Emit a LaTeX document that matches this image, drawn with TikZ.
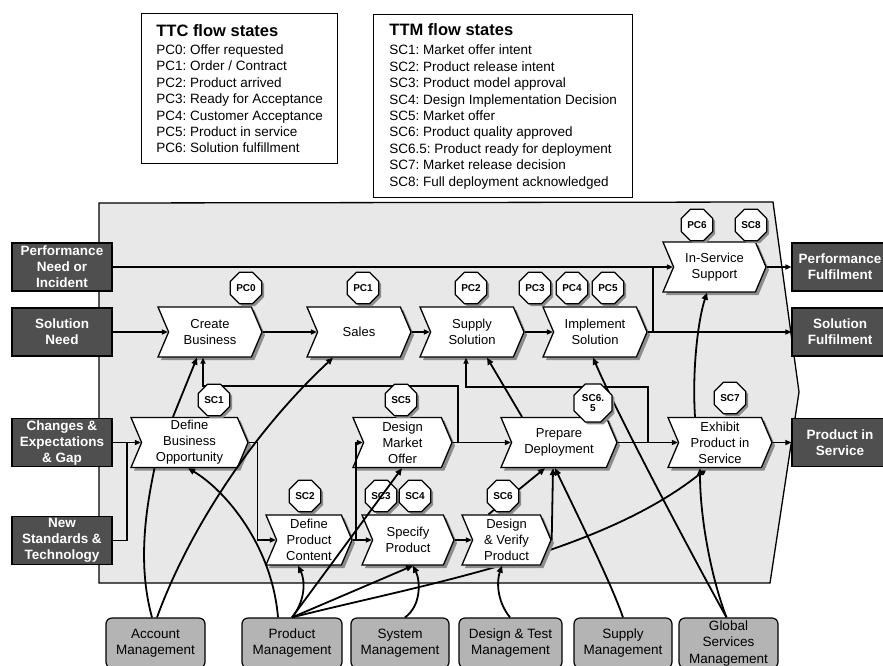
\documentclass[tikz,border=0pt]{standalone}
\usepackage{fontspec}
\setmainfont{Liberation Sans}
\usetikzlibrary{shapes.symbols,shapes.geometric,shadows,arrows.meta,calc}
\definecolor{regionfill}{HTML}{E8E8E8}
\definecolor{darkbox}{HTML}{4F4F4F}
\definecolor{deptfill}{HTML}{B4B4B4}
\definecolor{shadowc}{HTML}{8C8C8C}
\pgfdeclarelayer{regionlayer}
\pgfdeclarelayer{behindlayer}
\pgfsetlayers{regionlayer,behindlayer,main}
\frenchspacing
\begin{document}
\begin{tikzpicture}[x=1pt,y=-1pt,
  chev/.style={signal, signal to=east, signal from=west, signal pointer angle=134,
    draw=black, line width=1.3pt, fill=white, minimum height=50pt, inner sep=1pt,
    align=center, font=\fontsize{13}{16}\selectfont,
    drop shadow={shadow xshift=3pt,shadow yshift=-3pt,fill=shadowc,opacity=1}},
  badge/.style={regular polygon, regular polygon sides=8, minimum size=34pt,
    inner sep=0pt, draw=black, line width=1.3pt, fill=white,
    font=\bfseries\fontsize{10}{10.5}\selectfont, align=center,
    drop shadow={shadow xshift=2.5pt,shadow yshift=-2.5pt,fill=shadowc,opacity=1}},
  inbox/.style={rectangle, draw=black, line width=1.2pt, fill=darkbox, text=white,
    font=\bfseries\fontsize{13.5}{16}\selectfont, align=center,
    minimum width=100pt, minimum height=48pt, inner sep=1pt},
  dept/.style={rectangle, rounded corners=6pt, draw=black, line width=1.2pt,
    fill=deptfill, font=\fontsize{13.5}{16.5}\selectfont, align=center,
    minimum height=50pt, inner sep=1pt},
  flow/.style={line width=1.5pt, -{Triangle[length=6pt,width=5pt]}},
  link/.style={line width=1.8pt, -{Triangle[length=7pt,width=6pt]}},
  plain/.style={line width=1.5pt},
  legend/.style={draw=black, line width=1.3pt, fill=white, anchor=north west,
    align=left, inner sep=0pt, font=\fontsize{13.5}{16.4}\selectfont}
]
\useasboundingbox (0,0) rectangle (883,665);

% legends
\node[legend, minimum width=196pt, minimum height=150pt] (ttc) at (141,13)
 {{\bfseries\fontsize{16.5}{18}\selectfont TTC flow states}\\[2pt]
  PC0: Offer requested\\
  PC1: Order / Contract\\
  PC2: Product arrived\\
  PC3: Ready for Acceptance\\
  PC4: Customer Acceptance\\
  PC5: Product in service\\
  PC6: Solution fulfillment};
\node[legend, minimum width=259pt, minimum height=183pt] (ttm) at (373,14)
 {{\bfseries\fontsize{16.5}{18}\selectfont TTM flow states}\\[3pt]
  SC1: Market offer intent\\
  SC2: Product release intent\\
  SC3: Product model approval\\
  SC4: Design Implementation Decision\\
  SC5: Market offer\\
  SC6: Product quality approved\\
  SC6.5: Product ready for deployment\\
  SC7: Market release decision\\
  SC8: Full deployment acknowledged};

% grey region
\begin{pgfonlayer}{regionlayer}
\draw[line width=1.3pt, fill=regionfill] (99,203) -- (773,202) -- (799,392) -- (770,583) -- (99,583) -- cycle;
\end{pgfonlayer}

% bottom departments
\node[dept, minimum width=99pt]  (acct) at (155.5,643) {Account\\Management};
\node[dept, minimum width=100pt] (pm)   at (292,643)   {Product\\Management};
\node[dept, minimum width=98pt]  (sysm) at (400,643)   {System\\Management};
\node[dept, minimum width=103pt] (dtm)  at (510.5,643) {Design \& Test\\Management};
\node[dept, minimum width=98pt]  (supm) at (623,643)   {Supply\\Management};
\node[dept, minimum width=99pt]  (gsm)  at (728.5,643) {Global\\Services\\Management};

% input / output boxes
\node[inbox] (perf)    at (62,267)   {Performance\\Need or\\Incident};
\node[inbox] (solneed) at (62,332)   {Solution\\Need};
\node[inbox] (changes) at (62,442.5) {Changes \&\\Expectations\\\& Gap};
\node[inbox] (newstd)  at (62,540.5) {New\\Standards \&\\Technology};
\node[inbox, minimum width=96pt] (perfful)  at (840,267)   {Performance\\Fulfilment};
\node[inbox, minimum width=96pt] (solful)   at (840,332)   {Solution\\Fulfilment};
\node[inbox, minimum width=96pt] (prodserv) at (840,442.5) {Product in\\Service};

% process chevrons
\node[chev, minimum width=104pt] (create)    at (210,332)   {Create\\Business};
\node[chev, minimum width=104pt] (sales)     at (359,332)   {Sales};
\node[chev, minimum width=104pt] (supply)    at (472,332)   {Supply\\Solution};
\node[chev, minimum width=104pt] (implement) at (595,332)   {Implement\\Solution};
\node[chev, minimum width=103pt] (inservice) at (714.5,267) {In-Service\\Support};
\node[chev, minimum width=117pt] (dbo)       at (189.5,442.5) {Define\\Business\\Opportunity};
\node[chev, minimum width=99pt]  (dmo)       at (402.5,442.5) {Design\\Market\\Offer};
\node[chev, minimum width=116pt] (prepare)   at (559,442.5) {Prepare\\Deployment};
\node[chev, minimum width=104pt] (exhibit)   at (720,442.5) {Exhibit\\Product in\\Service};
\node[chev, minimum width=86pt]  (dpc)       at (309,540)   {Define\\Product\\Content};
\node[chev, minimum width=92pt]  (specify)   at (408,540)   {Specify\\Product};
\node[chev, minimum width=89pt]  (dv)        at (506.5,540) {Design\\\& Verify\\Product};

% curve passing behind Design & Verify
\begin{pgfonlayer}{behindlayer}
\draw[link] (pm.north) .. controls (420,585) and (600,555) .. ([xshift=-13pt]exhibit.south);
\end{pgfonlayer}

% main flow
\draw[flow] (perf.east) -- (inservice.west);
\draw[flow] (solneed.east) -- (create.west);
\draw[flow] (create.east) -- (sales.west);
\draw[flow] (sales.east) -- (supply.west);
\draw[flow] (supply.east) -- (implement.west);
\draw[flow] (implement.east) -- (solful.west);
\coordinate (jI) at (653,332);
\draw[plain] (jI) -- (jI |- perf.east);
\draw[flow] (inservice.east) -- (perfful.west);
\draw[flow] (exhibit.east) -- (prodserv.west);
\draw[flow] (changes.east) -- (dbo.west);
\coordinate (jN) at (127,442.5);
\draw[plain] (newstd.east) -| (jN);
\draw[flow] (dbo.east) -- ++(9,0) |- (dpc.west);
\coordinate (jP) at (356,540);
\draw[flow] (jP) |- (dmo.west);
\draw[flow] (dpc.east) -- (specify.west);
\draw[flow] (specify.east) -- (dv.west);
\draw[flow] (dmo.east) -- (prepare.west);
\coordinate (jD) at (458,442.5);
\draw[flow] (jD) -- (458,386) -| ([xshift=-7pt]create.south);
\draw[flow] (prepare.east) -- (exhibit.west);
\coordinate (jE) at (648,442.5);
\draw[flow] (jE) -- (648,387) -| ([xshift=-6pt]supply.south);

\draw[link] ([xshift=-25pt]exhibit.north) .. controls (692,370) and (698,320) .. ([xshift=-7.5pt]inservice.south);
\draw[link] ([xshift=-37pt]prepare.north) -- ([xshift=15pt]supply.south);
\draw[link] (dv.east) -- ([xshift=-6pt]prepare.south);
\draw[link] ([xshift=-18pt]dv.north) -- ([xshift=-14pt]prepare.south);

% departments to processes
\draw[plain, line width=1.8pt] ([xshift=-3.5pt]acct.north) .. controls (136,560) and (148,500) .. ([xshift=-35pt]dbo.south);
\draw[link] ([xshift=-16.5pt]dbo.north) -- ([xshift=-13pt]create.south);
\draw[link] ([xshift=1.5pt]acct.north) .. controls (185,540) and (245,440) .. ([xshift=-26pt]sales.south);
\draw[link] ([xshift=-14pt]pm.north) .. controls (272,545) and (225,490) .. ([xshift=-1.5pt]dbo.south);
\draw[link] (pm.north) .. controls (306,600) and (305,580) .. ([xshift=-11pt]dpc.south);
\draw[link] (pm.north) -- ([xshift=5pt]specify.south);
\draw[link] ([xshift=5pt]sysm.north) .. controls (422,605) and (420,580) .. ([xshift=5pt]specify.south);
\draw[link] ([xshift=-0.5pt]dtm.north) .. controls (496,600) and (497,580) .. ([xshift=-4.5pt]dv.south);
\draw[link] (supm.north) .. controls (612,585) and (575,510) .. ([xshift=-4pt]prepare.south);
\draw[link] ([xshift=-2pt]gsm.north) .. controls (700,570) and (620,420) .. ([xshift=-2pt]implement.south);
\draw[link] ([xshift=-2pt]gsm.north) .. controls (712,580) and (700,520) .. ([xshift=-20pt]exhibit.south);

% badges
\node[badge] (pc0) at (246,288) {PC0};
\node[badge] (pc1) at (363,288) {PC1};
\node[badge] (pc2) at (471,288) {PC2};
\node[badge] (pc3) at (535,288) {PC3};
\node[badge] (pc4) at (572,288) {PC4};
\node[badge] (pc5) at (608,288) {PC5};
\node[badge] (pc6) at (697,225) {PC6};
\node[badge] (sc8) at (751,225) {SC8};
\node[badge] (sc1) at (214,400) {SC1};
\node[badge] (sc5) at (401,400) {SC5};
\node[badge] (sc2) at (305,496) {SC2};
\node[badge] (sc3) at (381,496) {SC3};
\node[badge] (sc4) at (415,496) {SC4};
\node[badge] (sc6) at (503,496) {SC6};
\node[badge, minimum size=41pt] (sc65) at (593,403) {SC6.\\5};
\node[badge] (sc7) at (730,398) {SC7};

% line drawn over SC3
\draw[link] (pm.north) -- ([xshift=-0.5pt]dmo.south);
\end{tikzpicture}
\end{document}
